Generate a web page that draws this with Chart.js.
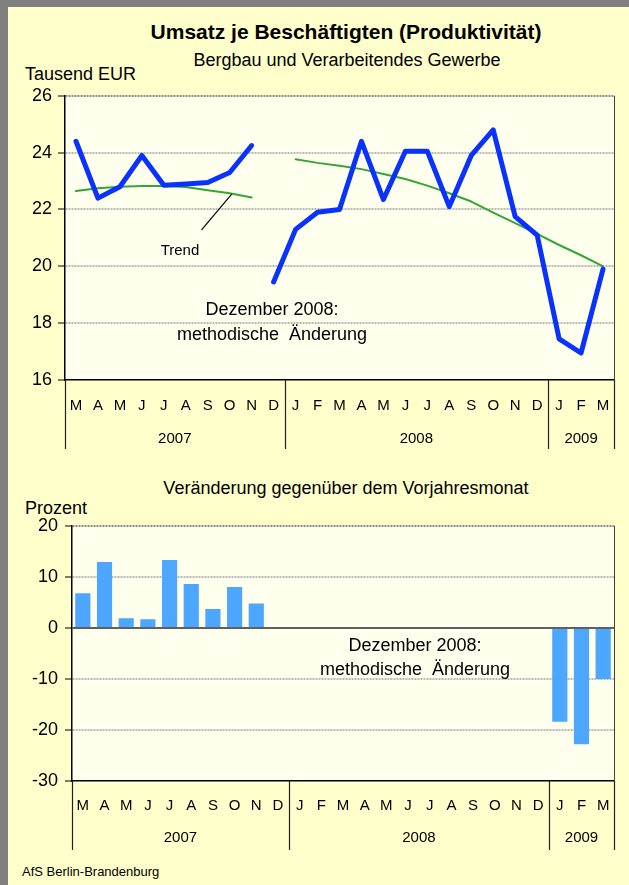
<!DOCTYPE html>
<html lang="de">
<head>
<meta charset="utf-8">
<title>Umsatz je Beschäftigten (Produktivität)</title>
<script src="https://cdn.jsdelivr.net/npm/chart.js@4.4.0/dist/chart.umd.min.js"></script>
<style>
  html, body { margin: 0; padding: 0; }
  body {
    width: 629px; height: 885px; position: relative; overflow: hidden;
    background: #ffffcc; color: #000;
    font-family: "Liberation Sans", Arial, sans-serif;
  }
  .rand-l { position: absolute; left: 0; top: 0; width: 8px; height: 885px; background: #808080; }
  .rand-o { position: absolute; left: 0; top: 0; width: 629px; height: 7px; background: #808080; }
  .txt { position: absolute; white-space: pre; line-height: 1; }
  .mitte { transform: translateX(-50%); }
  canvas { position: absolute; left: 0; }
</style>
</head>
<body>
<div class="rand-o"></div>
<div class="rand-l"></div>

<div class="txt mitte" style="left:346px; top:21px; font-size:21px; font-weight:bold;">Umsatz je Beschäftigten (Produktivität)</div>
<div class="txt mitte" style="left:347px; top:51px; font-size:18px;">Bergbau und Verarbeitendes Gewerbe</div>
<div class="txt" style="left:25px; top:65px; font-size:18px;">Tausend EUR</div>

<canvas id="umsatz" width="629" height="377" style="top:79px;"></canvas>

<div class="txt mitte" style="left:180px; top:242px; font-size:15px;">Trend</div>
<div class="txt mitte" style="left:272px; top:300px; font-size:18px;">Dezember 2008:</div>
<div class="txt mitte" style="left:272px; top:325px; font-size:18px;">methodische  Änderung</div>

<div class="txt mitte" style="left:346px; top:479px; font-size:18px;">Veränderung gegenüber dem Vorjahresmonat</div>
<div class="txt" style="left:25px; top:499px; font-size:18px;">Prozent</div>

<canvas id="veraenderung" width="629" height="351" style="top:508px;"></canvas>

<div class="txt mitte" style="left:415px; top:636px; font-size:18px;">Dezember 2008:</div>
<div class="txt mitte" style="left:415px; top:660px; font-size:18px;">methodische  Änderung</div>

<div class="txt" style="left:22px; top:865px; font-size:13px;">AfS Berlin-Brandenburg</div>

<script>
// Monate Maerz 2007 bis Maerz 2009
const monate = ['M','A','M','J','J','A','S','O','N','D',
                'J','F','M','A','M','J','J','A','S','O','N','D',
                'J','F','M'];
const jahre = ['2007', '2008', '2009'];
const monateProJahr = [10, 12, 3];

const luecke = n => Array(n).fill(null);

// Umsatz je Beschaeftigten, Tausend EUR (Reihe unterbrochen)
const umsatzAlt = [24.4, 22.4, 22.8, 23.9, 22.85, 22.9, 22.95, 23.3, 24.25].concat(luecke(16));
const umsatzNeu = luecke(9).concat([19.45, 21.3, 21.9, 22.0, 24.4, 22.35, 24.05, 24.05,
                                    22.1, 23.9, 24.8, 21.75, 21.1, 17.45, 16.95, 19.9]);
// Trend
const trendAlt = [22.65, 22.75, 22.8, 22.83, 22.83, 22.79, 22.68, 22.57, 22.42].concat(luecke(16));
const trendNeu = luecke(10).concat([23.77, 23.64, 23.54, 23.42, 23.25, 23.07, 22.84, 22.57,
                                    22.28, 21.89, 21.52, 21.14, 20.75, 20.39, 20.0]);

// Veraenderung gegenueber Vorjahresmonat, Prozent
const veraenderung = [6.8, 12.9, 1.9, 1.7, 13.3, 8.6, 3.7, 8.0, 4.8]
  .concat(luecke(13))
  .concat([-18.4, -22.8, -10.0]);

const schrift = '"Liberation Sans", Arial, sans-serif';
const blau = '#0a32ff';
const gruen = '#35a535';
const saeule = '#4da6ff';
const flaeche = '#ffffee';

// Plotflaeche, Rahmen, Jahresgruppen unter der Achse
const rahmen = {
  id: 'rahmen',
  beforeDraw(chart) {
    const a = chart.chartArea, ctx = chart.ctx;
    ctx.save();
    ctx.fillStyle = flaeche;
    ctx.fillRect(a.left, a.top, a.right - a.left, a.bottom - a.top);
    ctx.restore();
  },
  afterDatasetsDraw(chart, args, opts) {
    const a = chart.chartArea, ctx = chart.ctx;
    const y = chart.scales.y, x = chart.scales.x;
    ctx.save();
    if (opts.nulllinie) {
      const py = Math.round(y.getPixelForValue(0));
      ctx.strokeStyle = '#606060';
      ctx.lineWidth = 2;
      ctx.beginPath();
      ctx.moveTo(a.left, py);
      ctx.lineTo(a.right, py);
      ctx.stroke();
    }
    if (opts.pfeil) {
      const p = opts.pfeil;
      ctx.strokeStyle = '#000';
      ctx.lineWidth = 1.2;
      ctx.beginPath();
      ctx.moveTo(x.getPixelForValue(p.von[0]), y.getPixelForValue(p.von[1]));
      ctx.lineTo(x.getPixelForValue(p.bis[0]), y.getPixelForValue(p.bis[1]));
      ctx.stroke();
    }
    // rechter Rand
    ctx.strokeStyle = '#404040';
    ctx.lineWidth = 1;
    ctx.beginPath();
    ctx.moveTo(a.right + 0.5, a.top);
    ctx.lineTo(a.right + 0.5, a.bottom);
    ctx.stroke();
    ctx.restore();
  },
  afterDraw(chart, args, opts) {
    const a = chart.chartArea, ctx = chart.ctx, x = chart.scales.x;
    const halb = (x.getPixelForValue(1) - x.getPixelForValue(0)) / 2;
    const unten = a.bottom + opts.strichLaenge;
    ctx.save();
    ctx.lineWidth = 1.2;
    ctx.strokeStyle = '#202020';
    ctx.fillStyle = '#000';
    ctx.font = '15px ' + schrift;
    ctx.textAlign = 'center';
    ctx.textBaseline = 'middle';
    let start = 0;
    const grenzen = [x.getPixelForValue(0) - halb];
    monateProJahr.forEach((n, i) => {
      const links = x.getPixelForValue(start) - halb;
      const rechts = x.getPixelForValue(start + n - 1) + halb;
      grenzen.push(rechts);
      ctx.fillText(jahre[i], (links + rechts) / 2, a.bottom + opts.jahrAbstand);
      start += n;
    });
    grenzen.forEach(gx => {
      const px = Math.round(gx) + 0.5;
      ctx.beginPath();
      ctx.moveTo(px, a.bottom);
      ctx.lineTo(px, unten);
      ctx.stroke();
    });
    ctx.restore();
  }
};

function yAchse(min, max, schritt, breite, abstand) {
  return {
    min: min, max: max,
    afterFit: s => { s.width = breite; },
    ticks: {
      stepSize: schritt, padding: abstand, color: '#000',
      font: { family: schrift, size: 18 }
    },
    grid: {
      color: c => (c.tick && c.tick.value === min) ? 'rgba(0,0,0,0)'
                : (c.tick && c.tick.value === max) ? '#8a8a8a' : '#b8b8b8',
      lineWidth: 2,
      tickColor: '#000', tickLength: 7, tickWidth: 1
    },
    border: { display: true, color: '#000', width: 1.5, dash: [2, 1] }
  };
}

function xAchse(hoehe, abstand) {
  return {
    offset: true,
    afterFit: s => { s.height = hoehe; },
    ticks: {
      autoSkip: false, maxRotation: 0, padding: abstand, color: '#000',
      font: { family: schrift, size: 15 }
    },
    grid: { display: false, drawTicks: false },
    border: { display: true, color: '#000', width: 1.5 }
  };
}

new Chart(document.getElementById('umsatz'), {
  type: 'line',
  data: {
    labels: monate,
    datasets: [
      { data: umsatzAlt, borderColor: blau, borderWidth: 5 },
      { data: umsatzNeu, borderColor: blau, borderWidth: 5 },
      { data: trendAlt, borderColor: gruen, borderWidth: 2 },
      { data: trendNeu, borderColor: gruen, borderWidth: 2 }
    ]
  },
  options: {
    responsive: false,
    animation: false,
    spanGaps: false,
    layout: { padding: { left: 0, right: 15, top: 12, bottom: 0 } },
    elements: {
      point: { radius: 0 },
      line: { tension: 0, borderJoinStyle: 'round', borderCapStyle: 'round', fill: false }
    },
    scales: {
      x: xAchse(76, 17),
      y: yAchse(16, 26, 2, 65, 6)
    },
    plugins: {
      legend: { display: false },
      tooltip: { enabled: false },
      rahmen: { strichLaenge: 69, jahrAbstand: 59, pfeil: { von: [7.09, 22.54], bis: [5.72, 21.28] } }
    }
  },
  plugins: [rahmen]
});

new Chart(document.getElementById('veraenderung'), {
  type: 'bar',
  data: {
    labels: monate,
    datasets: [
      { data: veraenderung, backgroundColor: saeule, borderWidth: 0,
        barPercentage: 0.7, categoryPercentage: 1 }
    ]
  },
  options: {
    responsive: false,
    animation: false,
    layout: { padding: { left: 0, right: 15, top: 12, bottom: 0 } },
    scales: {
      x: xAchse(78, 16),
      y: yAchse(-30, 20, 10, 72, 7)
    },
    plugins: {
      legend: { display: false },
      tooltip: { enabled: false },
      rahmen: { strichLaenge: 69, jahrAbstand: 57, nulllinie: true }
    }
  },
  plugins: [rahmen]
});
</script>
</body>
</html>
